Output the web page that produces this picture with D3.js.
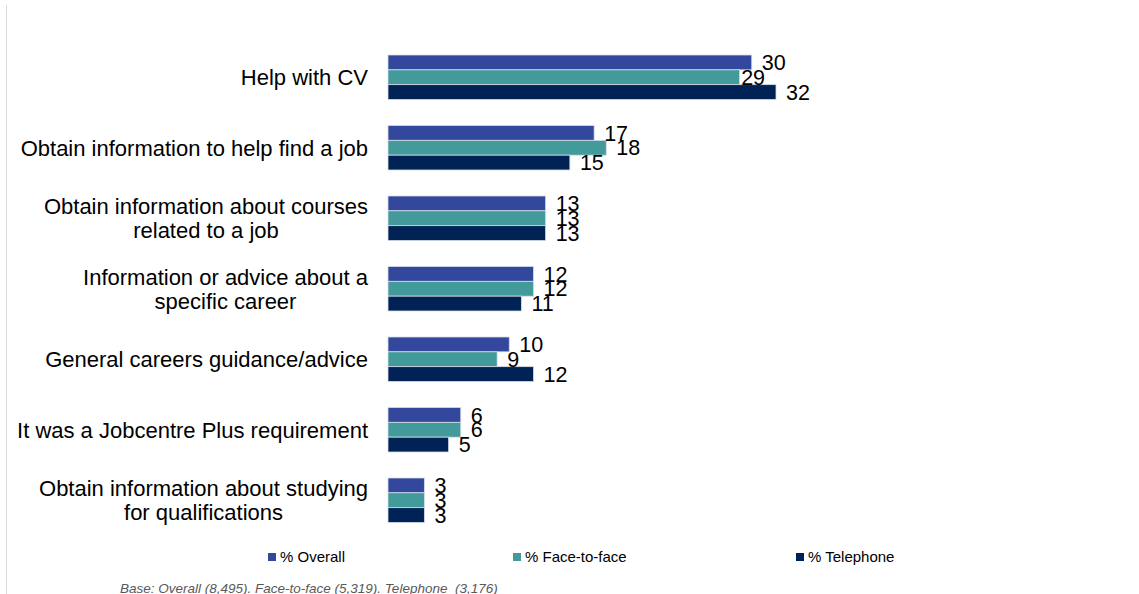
<!DOCTYPE html>
<html>
<head>
<meta charset="utf-8">
<script src="https://cdn.jsdelivr.net/npm/d3@7"></script>
<style>
  html, body { margin: 0; padding: 0; background: #fff; }
  svg { display: block; font-family: "Liberation Sans", Arial, sans-serif; }
</style>
</head>
<body>
<svg id="chart" width="1139" height="594"></svg>
<script>
// Reasons for using the service, by contact channel (%)
const categories = [
  ["Help with CV"],
  ["Obtain information to help find a job"],
  ["Obtain information about courses", "related to a job"],
  ["Information or advice about a", "specific career"],
  ["General careers guidance/advice"],
  ["It was a Jobcentre Plus requirement"],
  ["Obtain information about studying", "for qualifications"]
];
const seriesNames = ["% Overall", "% Face-to-face", "% Telephone"];
const overall    = [30, 17, 13, 12, 10, 6, 3];
const faceToFace = [29, 18, 13, 12, 9, 6, 3];
const telephone  = [32, 15, 13, 11, 12, 5, 3];
const baseNote = "Base: Overall (8,495). Face-to-face (5,319). Telephone  (3,176)";

const seriesValues = [overall, faceToFace, telephone];
const colors = ["#33479c", "#429a9a", "#002254"];

const svg = d3.select("#chart");
const catKeys = categories.map(c => c.join(" "));

// thin frame line along the left edge
svg.append("line")
  .attr("x1", 6.5).attr("x2", 6.5).attr("y1", 5).attr("y2", 594)
  .attr("stroke", "#d9d9d9").attr("stroke-width", 1);

const x = d3.scaleLinear().domain([0, 32]).range([388, 776]);

const step = 70.5, inner = 26 / step;
const y = d3.scaleBand()
  .domain(catKeys)
  .range([55 - step * inner / 2, 55 - step * inner / 2 + step * catKeys.length])
  .paddingInner(inner)
  .paddingOuter(inner / 2);

const ySub = d3.scaleBand().domain(seriesNames).range([0, y.bandwidth()]);

// bars
const groups = svg.append("g").selectAll("g")
  .data(categories)
  .join("g")
  .attr("transform", (d, i) => `translate(0,${y(catKeys[i])})`);

groups.each(function (cat, i) {
  const g = d3.select(this);
  const rows = seriesNames.map((s, k) => ({ s, k, v: seriesValues[k][i] }));
  g.selectAll("rect").data(rows).join("rect")
    .attr("x", x(0))
    .attr("y", d => ySub(d.s))
    .attr("width", d => x(d.v) - x(0))
    .attr("height", ySub.bandwidth())
    .attr("fill", d => colors[d.k])
    .attr("stroke", "#d5dcea")
    .attr("stroke-width", 0.8);

  // value labels; the Face-to-face label in the first group sits tight against its bar
  g.selectAll("text.val").data(rows).join("text")
    .attr("class", "val")
    .attr("x", d => x(d.v) + ((i === 0 && d.k === 1) ? 1.5 : 10))
    .attr("y", d => ySub(d.s) + ySub.bandwidth() / 2)
    .attr("dy", "0.36em")
    .attr("font-size", 21.5)
    .attr("fill", "#000")
    .text(d => d.v);
});

// category labels: each block ends at the bar edge, wrapped lines centred within it
const lineH = 24, labelRight = 368;
svg.append("g").selectAll("text")
  .data(categories)
  .join("text")
  .attr("text-anchor", "middle")
  .attr("font-size", 22)
  .attr("fill", "#000")
  .each(function (lines, i) {
    const cy = y(catKeys[i]) + y.bandwidth() / 2;
    const t = d3.select(this);
    const spans = lines.map((ln, j) => t.append("tspan")
      .attr("y", cy + (j - (lines.length - 1) / 2) * lineH)
      .attr("dy", "0.36em")
      .text(ln));
    const maxW = d3.max(spans, s => s.node().getComputedTextLength());
    spans.forEach(s => s.attr("x", labelRight - maxW / 2));
  });

// legend
const legendX = [268, 513, 796];
const legend = svg.append("g").selectAll("g")
  .data(seriesNames)
  .join("g")
  .attr("transform", (d, i) => `translate(${legendX[i]},557)`);
legend.append("rect")
  .attr("x", 0).attr("y", -4).attr("width", 8).attr("height", 8)
  .attr("fill", (d, i) => colors[i]);
legend.append("text")
  .attr("x", 12).attr("y", 0).attr("dy", "0.36em")
  .attr("font-size", 15)
  .attr("fill", "#000")
  .text(d => d);

// base note
svg.append("text")
  .attr("x", 120).attr("y", 593)
  .attr("font-size", 13.5)
  .attr("font-style", "italic")
  .attr("fill", "#595959")
  .style("white-space", "pre")
  .text(baseNote);
</script>
</body>
</html>
